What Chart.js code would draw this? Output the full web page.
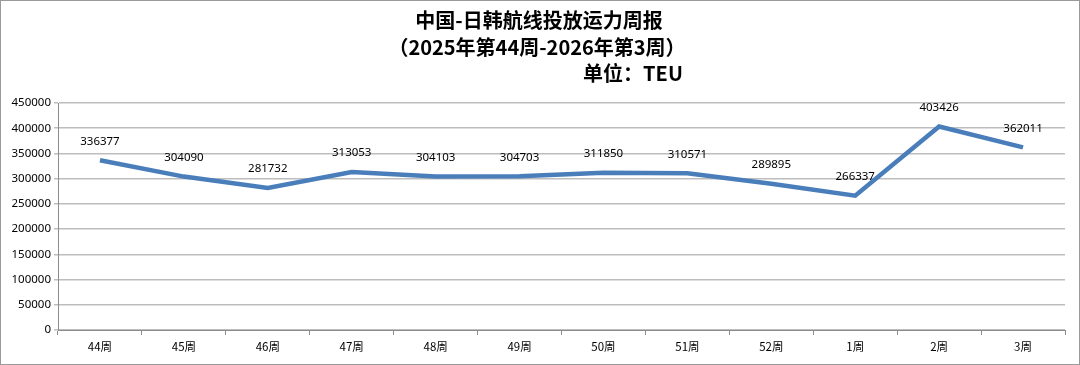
<!DOCTYPE html>
<html lang="zh">
<head>
<meta charset="UTF-8" />
<title>中国-日韩航线投放运力周报</title>
<script src="https://cdn.jsdelivr.net/npm/chart.js"></script>
<style>
  html, body { margin: 0; padding: 0; background: #fff; }
  .frame {
    width: 1078px;
    height: 363px;
    border: 1px solid #9a9a9a;
    position: relative;
  }
  canvas { display: block; }
</style>
</head>
<body>
<div class="frame">
  <canvas id="chart" width="1078" height="363"></canvas>
</div>
<script>
// 周次
const weeks = ['44周', '45周', '46周', '47周', '48周', '49周', '50周', '51周', '52周', '1周', '2周', '3周'];
// 运力 (TEU)
const capacity = [336377, 304090, 281732, 313053, 304103, 304703, 311850, 310571, 289895, 266337, 403426, 362011];
const yTicks = [0, 50000, 100000, 150000, 200000, 250000, 300000, 350000, 400000, 450000];

const titleLines = ['中国-日韩航线投放运力周报', '（2025年第44周-2026年第3周）'];
const unitText = '单位：TEU';

// title + data labels
const drawText = {
  id: 'drawText',
  afterDatasetsDraw(chart) {
    const c = chart.ctx;
    c.save();
    c.fillStyle = '#000';
    c.textAlign = 'center';
    c.textBaseline = 'middle';
    c.font = 'bold 20px "Noto Sans CJK SC", sans-serif';
    c.fillText(titleLines[0], 538, 19);
    c.fillText(titleLines[1], 536, 46);
    c.fillText(unitText, 632, 72);

    c.font = '11.5px "Noto Sans", sans-serif';
    const meta = chart.getDatasetMeta(0);
    meta.data.forEach((pt, i) => {
      c.fillText(String(capacity[i]), pt.x, pt.y - 19);
    });
    c.restore();
  }
};

new Chart(document.getElementById('chart'), {
  type: 'line',
  data: {
    labels: weeks,
    datasets: [{
      data: capacity,
      borderColor: '#4a7ebb',
      borderWidth: 4.5,
      pointRadius: 0,
      tension: 0,
      fill: false
    }]
  },
  options: {
    responsive: false,
    animation: false,
    layout: { padding: { top: 102, right: 14, bottom: 0, left: 0 } },
    plugins: {
      legend: { display: false },
      tooltip: { enabled: false }
    },
    scales: {
      x: {
        offset: true,
        afterFit(s) { s.height = 34; },
        grid: {
          offset: true,
          drawOnChartArea: false,
          tickLength: 5,
          color: '#8c8c8c'
        },
        border: { color: '#8c8c8c' },
        ticks: {
          color: '#000',
          padding: 5,
          font: { size: 11.5, family: '"Noto Sans CJK SC", sans-serif' }
        }
      },
      y: {
        min: 0,
        max: 450000,
        afterFit(s) { s.width = 57; },
        afterBuildTicks(s) { s.ticks = yTicks.map(v => ({ value: v })); },
        grid: {
          color: '#bdbdbd',
          lineWidth: 1.5,
          tickLength: 4,
          drawTicks: true
        },
        border: { color: '#8c8c8c' },
        ticks: {
          color: '#000',
          padding: 3,
          callback: v => String(v),
          font: { size: 11.5, family: '"Noto Sans", sans-serif' }
        }
      }
    }
  },
  plugins: [drawText]
});
</script>
</body>
</html>
